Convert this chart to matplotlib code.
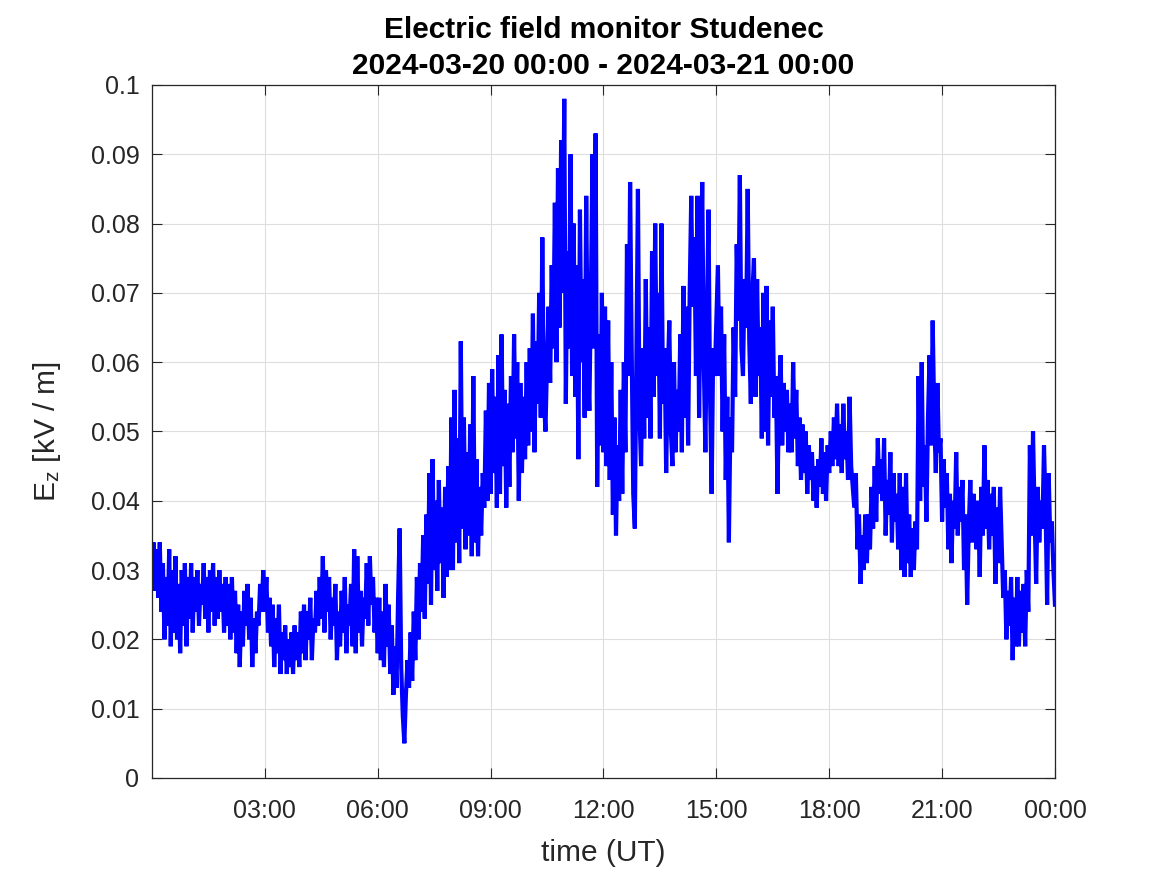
import numpy as np
import matplotlib
matplotlib.use("Agg")
import matplotlib.pyplot as plt

plt.rcParams['font.family'] = ['Liberation Sans', 'DejaVu Sans']
plt.rcParams['mathtext.default'] = 'regular'

## data: E_z in 1e-3 kV/m, one row per hour (values spread evenly over the hour)
h0 = [28, 34, 27, 33, 26, 34, 24, 31, 20, 29, 22, 33, 19, 30, 21, 32, 20, 28, 18, 30, 22, 31, 19, 29]
h1 = [23, 31, 21, 29, 24, 30, 22, 28, 25, 31, 23, 29, 21, 30, 24, 31, 22, 29, 23, 30, 24, 28, 21, 29]
h2 = [22, 28, 20, 29, 21, 27, 18, 25, 16, 24, 19, 27, 22, 28, 20, 26, 16, 23, 18, 24, 22, 28, 24, 30]
h3 = [24, 29, 21, 26, 19, 25, 16, 23, 18, 25, 15, 21, 17, 22, 15, 20, 16, 21, 15, 22, 17, 21, 16, 24]
h4 = [18, 25, 17, 24, 20, 26, 17, 23, 21, 27, 22, 29, 23, 32, 21, 30, 24, 29, 20, 26, 22, 28, 17, 24]
h5 = [19, 27, 21, 29, 18, 25, 22, 28, 19, 33, 18, 32, 21, 27, 19, 26, 23, 31, 22, 32, 25, 29, 21, 26]
h6 = [18, 26, 17, 24, 16, 28, 19, 25, 15, 22, 12, 19, 13, 26, 36, 16, 9, 5, 12, 17, 13, 21, 14, 24]
h7 = [17, 29, 20, 31, 24, 35, 23, 38, 28, 44, 25, 46, 30, 40, 27, 43, 31, 39, 26, 42, 29, 45, 30, 52]
h8 = [30, 56, 34, 49, 31, 63, 36, 52, 33, 47, 35, 51, 32, 58, 34, 46, 32, 42, 35, 44, 39, 53, 40, 57]
h9 = [41, 59, 44, 55, 39, 61, 41, 64, 45, 56, 39, 54, 42, 58, 47, 64, 49, 60, 40, 57, 44, 55, 46, 60]
h10 = [48, 62, 50, 67, 47, 63, 54, 70, 52, 78, 55, 50, 60, 68, 57, 74, 62, 83, 60, 88, 65, 92, 70, 98]
h11 = [54, 76, 62, 90, 58, 80, 55, 74, 46, 82, 60, 72, 52, 84, 60, 53, 70, 90, 62, 93, 42, 64, 48, 70]
h12 = [47, 68, 45, 66, 43, 60, 38, 52, 35, 48, 40, 56, 41, 60, 47, 77, 58, 86, 62, 41, 36, 60, 85, 52]
h13 = [45, 62, 49, 72, 52, 65, 49, 76, 55, 80, 58, 70, 49, 80, 54, 62, 44, 58, 66, 50, 45, 60, 47, 56]
h14 = [50, 64, 47, 71, 52, 68, 48, 70, 84, 68, 78, 58, 84, 52, 70, 86, 60, 47, 66, 82, 55, 41, 62, 58]
h15 = [66, 74, 58, 68, 50, 64, 43, 55, 34, 52, 47, 65, 55, 77, 66, 87, 62, 58, 72, 65, 85, 63, 54, 70]
h16 = [75, 55, 72, 58, 65, 49, 70, 50, 71, 48, 66, 55, 68, 52, 58, 41, 55, 61, 48, 57, 50, 56, 47, 54]
h17 = [47, 60, 49, 56, 45, 52, 43, 51, 44, 50, 41, 48, 43, 47, 40, 45, 39, 46, 42, 49, 41, 47, 40, 48]
h18 = [44, 50, 45, 52, 46, 54, 45, 51, 44, 54, 46, 50, 43, 55, 45, 42, 39, 44, 33, 38, 28, 35, 30, 38]
h19 = [31, 38, 33, 42, 36, 45, 37, 49, 41, 46, 40, 49, 35, 43, 38, 47, 34, 44, 37, 41, 33, 44, 30, 42]
h20 = [29, 44, 31, 38, 29, 36, 30, 37, 33, 58, 40, 60, 42, 48, 37, 52, 61, 48, 66, 52, 44, 57, 47, 49]
h21 = [37, 46, 39, 44, 33, 41, 31, 40, 36, 47, 35, 42, 37, 43, 30, 38, 25, 36, 43, 34, 41, 36, 33, 40]
h22 = [29, 42, 35, 48, 36, 43, 33, 41, 35, 42, 28, 39, 31, 42, 34, 26, 30, 20, 27, 22, 29, 17, 26, 19]
h23 = [29, 19, 27, 21, 28, 19, 30, 24, 48, 35, 50, 38, 28, 42, 34, 40, 36, 48, 39, 25, 44, 34, 37, 30]
last_value = 25  # at 24:00

tick_hours = [3, 6, 9, 12, 15, 18, 21, 24]
tick_labels = ['03:00', '06:00', '09:00', '12:00', '15:00', '18:00', '21:00', '00:00']
ytick_labels = ['0', '0.01', '0.02', '0.03', '0.04', '0.05', '0.06', '0.07', '0.08', '0.09', '0.1']

rows = [h0, h1, h2, h3, h4, h5, h6, h7, h8, h9, h10, h11,
        h12, h13, h14, h15, h16, h17, h18, h19, h20, h21, h22, h23]
t = []
ez = []
for h, row in enumerate(rows):
    t.extend(h + np.arange(len(row)) / len(row))
    ez.extend(row)
t.append(24.0)
ez.append(last_value)
t = np.array(t)
ez = np.array(ez, dtype=float) * 0.001

## plot
fig = plt.figure(figsize=(11.67, 8.75), dpi=100)
ax = fig.add_axes([0.1302, 0.1109, 0.7738, 0.792])

ax.plot(t, ez, color='#0000ff', linewidth=3.0, solid_joinstyle='miter')

ax.set_xlim(0, 24)
ax.set_ylim(0, 0.1)
ax.set_xticks(tick_hours)
ax.set_xticklabels(tick_labels)
ax.set_yticks(np.arange(11) * 0.01)
ax.set_yticklabels(ytick_labels)

ax.grid(True, color='#dedede', linewidth=0.8)
ax.set_axisbelow(True)
ax.tick_params(direction='in', length=7, width=0.8, colors='#262626', labelsize=18,
               top=True, right=True)
ax.tick_params(axis='x', pad=15)
ax.tick_params(axis='y', pad=9)
for s in ax.spines.values():
    s.set_color('#262626')
    s.set_linewidth(0.9)

ax.set_xlabel('time (UT)', fontsize=21.5, color='#262626', labelpad=12)
ax.set_ylabel('E$_z$ [kV / m]', fontsize=21.5, color='#262626', labelpad=20)
ax.set_title('Electric field monitor Studenec\n2024-03-20 00:00 - 2024-03-21 00:00',
             fontsize=21.5, fontweight='bold', color='black', pad=8, linespacing=1.35)

fig.savefig('out.png', dpi=100)
